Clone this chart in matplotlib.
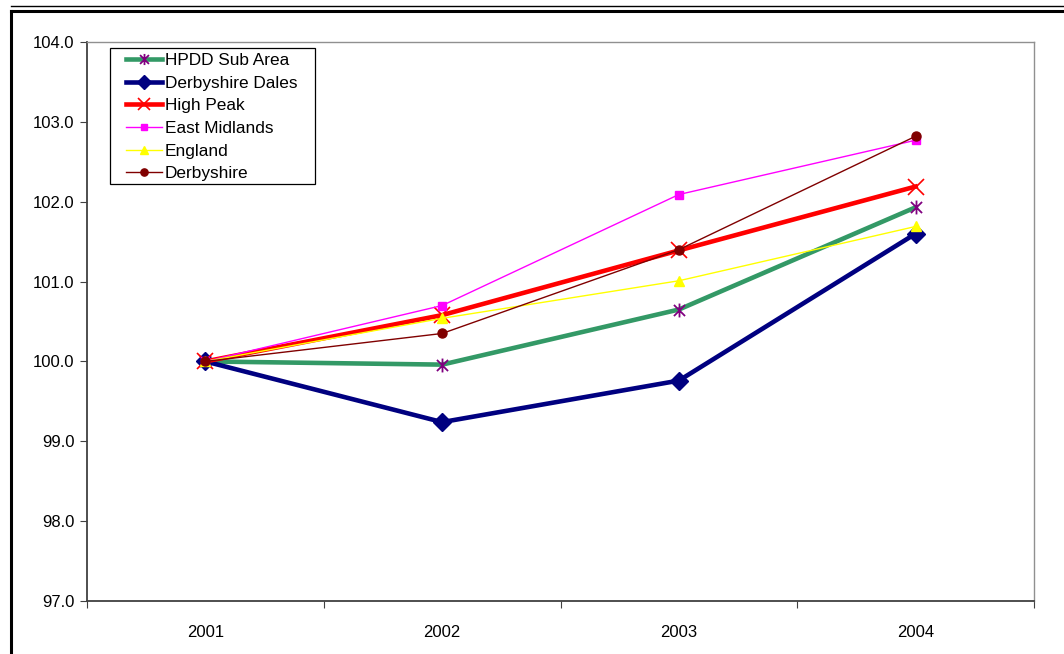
import matplotlib.pyplot as plt
from matplotlib.lines import Line2D
from matplotlib.patches import Rectangle
from matplotlib.path import Path
import numpy as np

plt.rcParams["font.family"] = ["Liberation Sans", "DejaVu Sans"]

# index values, 2001 = 100
years = ["2001", "2002", "2003", "2004"]
hpdd = [100.0, 99.96, 100.65, 101.93]
derbyshire_dales = [100.0, 99.24, 99.76, 101.60]
high_peak = [100.0, 100.58, 101.39, 102.19]
east_midlands = [100.0, 100.70, 102.09, 102.77]
england = [100.0, 100.54, 101.01, 101.69]
derbyshire = [100.0, 100.35, 101.40, 102.82]

# excel style star: an x with a vertical stroke through it
star = Path([(-1, -1), (1, 1), (-1, 1), (1, -1), (0, -1.25), (0, 1.25)],
            [Path.MOVETO, Path.LINETO, Path.MOVETO, Path.LINETO,
             Path.MOVETO, Path.LINETO])

W, H = 1064, 654
fig = plt.figure(figsize=(W / 100, H / 100), dpi=100)
ax = fig.add_axes([87 / W, 53 / H, 947 / W, 559 / H])

x = np.arange(len(years)) + 0.5

ax.plot(x, hpdd, color="#339966", lw=3.3, marker=star, ms=10,
        mec="#800080", mfc="none", mew=1.3, label="HPDD Sub Area")
ax.plot(x, derbyshire_dales, color="#000080", lw=3.3, marker="D", ms=9,
        mec="#000080", mfc="#000080", label="Derbyshire Dales")
ax.plot(x, high_peak, color="#FF0000", lw=3.3, marker="x", ms=11,
        mew=1.2, label="High Peak")
ax.plot(x, east_midlands, color="#FF00FF", lw=1.0, marker="s", ms=6,
        label="East Midlands")
ax.plot(x, england, color="#FFFF00", lw=1.0, marker="^", ms=7,
        label="England")
ax.plot(x, derbyshire, color="#800000", lw=1.0, marker="o", ms=6.5,
        label="Derbyshire")

ax.set_xlim(0, 4)
ax.set_ylim(97, 104)
ax.set_yticks(np.arange(97, 104.5, 1))
ax.set_yticklabels([f"{v:.1f}" for v in np.arange(97, 104.5, 1)])

# tick marks between categories, labels centred on them
ax.set_xticks(np.arange(0, 5))
ax.set_xticklabels([])
ax.set_xticks(x, minor=True)
ax.set_xticklabels(years, minor=True)
ax.tick_params(axis="x", which="minor", length=0, pad=17, labelsize=12)
ax.tick_params(axis="x", which="major", length=5, direction="out", color="#404040")
ax.tick_params(axis="y", length=5, direction="out", color="#404040",
               labelsize=12, pad=4)

for side in ["left", "bottom"]:
    ax.spines[side].set_color("#404040")
    ax.spines[side].set_linewidth(1.3)
for side in ["top", "right"]:
    ax.spines[side].set_color("#909090")
    ax.spines[side].set_linewidth(1.0)

# legend without its own frame; the box is drawn separately
leg = ax.legend(loc="upper left", bbox_to_anchor=(126 / W, 1 - 53 / H),
                bbox_transform=fig.transFigure, fontsize=12.4, frameon=False,
                handlelength=2.1, handletextpad=0.15, labelspacing=0.44,
                borderpad=0, borderaxespad=0, markerscale=0.8)
fig.add_artist(Rectangle((110 / W, 1 - 184 / H), 205 / W, 136 / H,
                         fill=False, edgecolor="black", lw=0.9,
                         transform=fig.transFigure))

# outer chart frame
fig.add_artist(Line2D([11 / W, 1], [1 - 6 / H, 1 - 6 / H],
                      color="black", lw=1.0, transform=fig.transFigure))
fig.add_artist(Line2D([10.5 / W, 1], [1 - 11 / H, 1 - 11 / H],
                      color="black", lw=2.2, transform=fig.transFigure))
fig.add_artist(Line2D([10.5 / W, 10.5 / W], [0, 1 - 11 / H],
                      color="black", lw=2.2, transform=fig.transFigure))

fig.savefig("out.png", dpi=100)
